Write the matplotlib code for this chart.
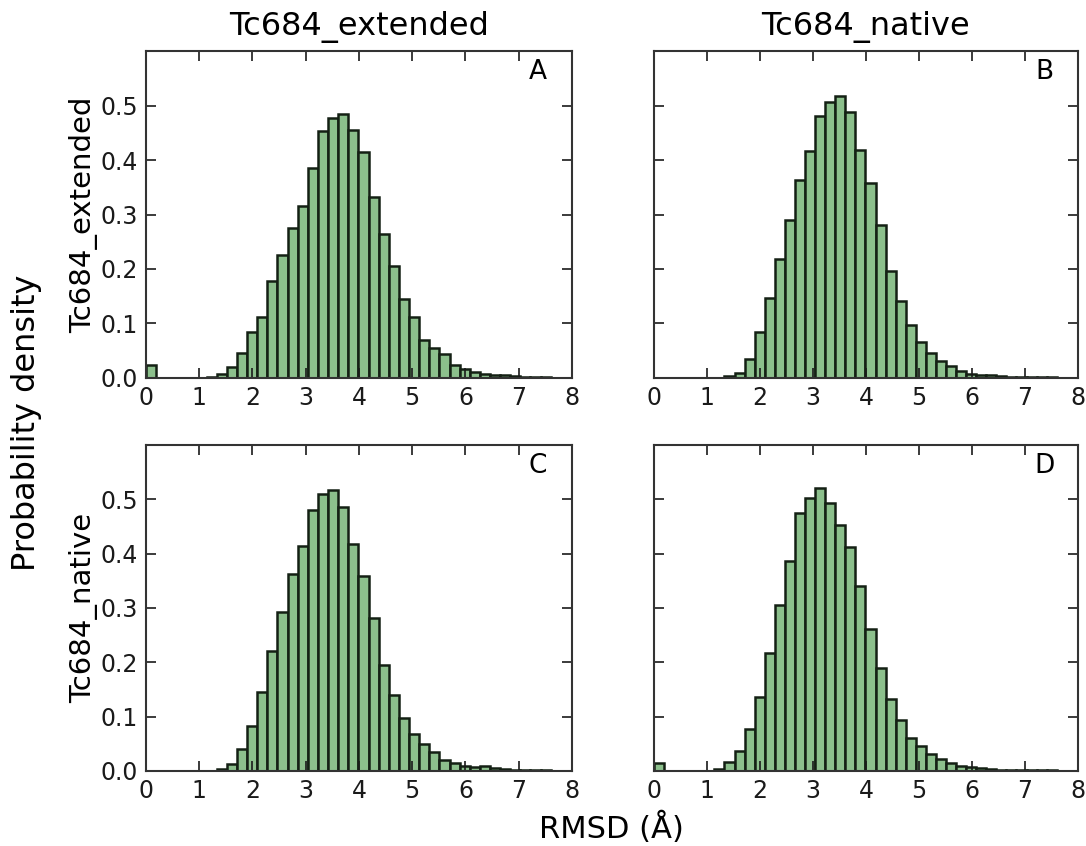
import numpy as np
import matplotlib
matplotlib.use('Agg')
import matplotlib.pyplot as plt

# RMSD histograms: 40 bins from 0 to 7.6 A
bin_edges = np.linspace(0, 7.6, 41)

dens_ext_ext = [0.024, 0, 0, 0, 0, 0, 0.002, 0.007, 0.020, 0.046,
                0.084, 0.112, 0.178, 0.226, 0.275, 0.316, 0.386, 0.453, 0.477, 0.485,
                0.455, 0.414, 0.333, 0.264, 0.206, 0.145, 0.112, 0.069, 0.055, 0.044,
                0.024, 0.016, 0.011, 0.007, 0.006, 0.005, 0.003, 0.002, 0.001, 0.001]

dens_ext_nat = [0, 0, 0, 0, 0, 0, 0, 0.004, 0.010, 0.035,
                0.084, 0.147, 0.219, 0.290, 0.364, 0.416, 0.480, 0.507, 0.517, 0.488,
                0.419, 0.358, 0.280, 0.197, 0.142, 0.097, 0.066, 0.046, 0.032, 0.022,
                0.013, 0.007, 0.005, 0.005, 0.004, 0.002, 0.001, 0.001, 0.001, 0.001]

dens_nat_ext = [0, 0, 0, 0, 0, 0, 0, 0.003, 0.012, 0.040,
                0.083, 0.145, 0.220, 0.292, 0.363, 0.414, 0.481, 0.510, 0.517, 0.486,
                0.417, 0.358, 0.281, 0.195, 0.139, 0.098, 0.068, 0.049, 0.034, 0.021,
                0.014, 0.010, 0.007, 0.009, 0.005, 0.003, 0.002, 0.001, 0.001, 0.001]

dens_nat_nat = [0.014, 0, 0, 0, 0, 0, 0.003, 0.016, 0.037, 0.078,
                0.137, 0.218, 0.306, 0.386, 0.475, 0.502, 0.521, 0.493, 0.453, 0.412,
                0.340, 0.262, 0.190, 0.132, 0.093, 0.061, 0.046, 0.032, 0.022, 0.015,
                0.010, 0.007, 0.005, 0.003, 0.002, 0.001, 0.001, 0.001, 0.001, 0.001]

col_titles = ['Tc684_extended', 'Tc684_native']
row_titles = ['Tc684_extended', 'Tc684_native']
panel_tags = ['A', 'B', 'C', 'D']
panel_data = [dens_ext_ext, dens_ext_nat, dens_nat_ext, dens_nat_nat]

plt.rcParams['font.family'] = 'DejaVu Sans'
plt.rcParams['font.size'] = 17

fig = plt.figure(figsize=(10.86, 8.46), dpi=100)

# положение осей (left, bottom, width, height)
rects = [[0.1344, 0.5532, 0.3923, 0.3865],
         [0.6022, 0.5532, 0.3904, 0.3865],
         [0.1344, 0.0887, 0.3923, 0.3853],
         [0.6022, 0.0887, 0.3904, 0.3853]]

axes = []
for k in range(4):
    ax = fig.add_axes(rects[k])
    widths = np.diff(bin_edges)
    ax.bar(bin_edges[:-1], panel_data[k], width=widths, align='edge',
           facecolor='#8cc08c', edgecolor='#142014', linewidth=1.8)
    ax.set_xlim(0, 8)
    ax.set_ylim(0, 0.6)
    ax.set_xticks(range(0, 9))
    ax.set_yticks(np.arange(0, 0.55, 0.1))
    ax.tick_params(direction='in', top=True, right=True, length=7,
                   width=1.2, labelsize=17, colors='#1a1a1a', pad=6)
    for s in ax.spines.values():
        s.set_linewidth(1.5)
        s.set_color('#333333')
    if k % 2 == 1:
        ax.set_yticklabels([])
    ax.text(0.92, 0.935, panel_tags[k], transform=ax.transAxes,
            ha='center', va='center', fontsize=19)
    axes.append(ax)

# заголовки столбцов и строк
for j in range(2):
    r = rects[j]
    fig.text(r[0] + r[2] / 2, 0.968, col_titles[j], ha='center', va='center',
             fontsize=23)
for i in range(2):
    r = rects[2 * i]
    fig.text(0.077, r[1] + r[3] / 2, row_titles[i], rotation=90,
             ha='center', va='center', fontsize=21)

fig.text(0.024, 0.50, 'Probability density', rotation=90,
         ha='center', va='center', fontsize=23)
fig.text(0.563, 0.022, 'RMSD (Å)', ha='center', va='center', fontsize=22)

plt.savefig('out.png', dpi=100)
